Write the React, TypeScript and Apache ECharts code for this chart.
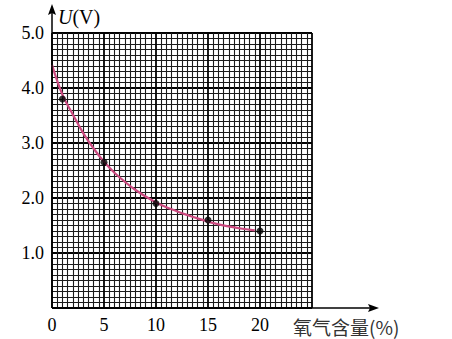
import React, { useEffect, useRef } from "react";
import * as echarts from "echarts";

const pointX = [1, 5, 10, 15, 20];
const pointU = [3.8, 2.65, 1.9, 1.6, 1.4];
const curveX = [0, 1, 2, 3, 4, 5, 6, 8, 10, 12, 14, 16, 18, 19.5];
const curveU = [4.42, 3.88, 3.52, 3.18, 2.9, 2.66, 2.46, 2.15, 1.92, 1.76, 1.63, 1.52, 1.45, 1.41];
const xTickLabels = ["0", "5", "10", "15", "20"];
const yTickLabels = ["1.0", "2.0", "3.0", "4.0", "5.0"];

export default function App() {
  const ref = useRef<HTMLDivElement>(null);
  useEffect(() => {
    if (!ref.current) return;
    const chart = echarts.init(ref.current, null, { renderer: "svg" });
    const serif = "'Liberation Serif', 'Times New Roman', serif";
    const L = 52, T = 33, W = 260, H = 275;
    const bottom = T + H;
    chart.setOption({
      animation: false,
      backgroundColor: "#fff",
      grid: { left: L, top: T, width: W, height: H },
      xAxis: {
        type: "value",
        min: 0,
        max: 25,
        interval: 5,
        axisLine: { show: false },
        axisTick: { show: false },
        axisLabel: {
          margin: 8,
          fontFamily: serif,
          fontSize: 18,
          color: "#000",
          formatter: (v: number) => (xTickLabels.includes(String(v)) ? String(v) : ""),
        },
        splitLine: { show: true, lineStyle: { color: "#000", width: 1.8 } },
        minorTick: { show: false, splitNumber: 10 },
        minorSplitLine: { show: true, lineStyle: { color: "#1a1a1a", width: 1.1 } },
      },
      yAxis: {
        type: "value",
        min: 0,
        max: 5,
        interval: 1,
        axisLine: { show: false },
        axisTick: { show: false },
        axisLabel: {
          margin: 8,
          fontFamily: serif,
          fontSize: 18,
          color: "#000",
          formatter: (v: number) => {
            const s = v.toFixed(1);
            return yTickLabels.includes(s) ? s : "";
          },
        },
        splitLine: { show: true, lineStyle: { color: "#000", width: 1.8 } },
        minorTick: { show: false, splitNumber: 10 },
        minorSplitLine: { show: true, lineStyle: { color: "#1a1a1a", width: 1.1 } },
      },
      series: [
        {
          type: "line",
          data: curveX.map((x, i) => [x, curveU[i]]),
          smooth: 0.4,
          showSymbol: false,
          lineStyle: { color: "#cc4a80", width: 2.2 },
          z: 3,
        },
        {
          type: "scatter",
          data: pointX.map((x, i) => [x, pointU[i]]),
          symbolSize: 7,
          itemStyle: { color: "#000" },
          z: 4,
        },
      ],
      graphic: [
        { type: "line", shape: { x1: L, y1: bottom, x2: 372, y2: bottom }, style: { stroke: "#000", lineWidth: 1.5 }, z: 10 },
        { type: "polygon", shape: { points: [[379, bottom], [368, bottom - 4], [370, bottom], [368, bottom + 4]] }, style: { fill: "#000" }, z: 10 },
        { type: "line", shape: { x1: L, y1: bottom, x2: L, y2: 10 }, style: { stroke: "#000", lineWidth: 1.5 }, z: 10 },
        { type: "polygon", shape: { points: [[L, 4], [L - 4, 15], [L, 13], [L + 4, 15]] }, style: { fill: "#000" }, z: 10 },
        {
          type: "text",
          x: 58,
          y: 17,
          style: {
            text: "{i|U}(V)",
            rich: { i: { fontStyle: "italic", fontFamily: serif, fontSize: 20, fill: "#000" } },
            fontFamily: serif,
            fontSize: 20,
            fill: "#000",
            verticalAlign: "middle",
          },
          z: 10,
        },
        {
          type: "text",
          x: 293,
          y: 326,
          style: {
            text: "氧气含量(%)",
            fontFamily: "'Noto Sans CJK SC', " + serif,
            fontSize: 19,
            fill: "#333",
            verticalAlign: "middle",
          },
          z: 10,
        },
      ],
    });
    return () => chart.dispose();
  }, []);
  return <div ref={ref} style={{ position: "fixed", left: 0, top: 0, width: 452, height: 339 }} />;
}
